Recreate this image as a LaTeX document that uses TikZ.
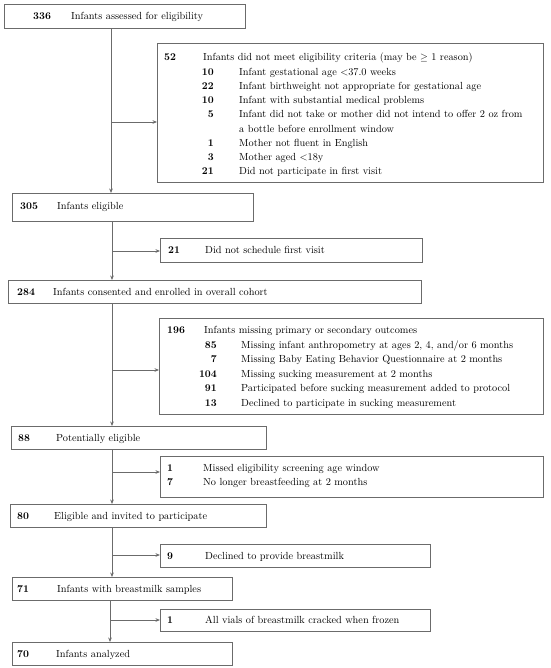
\documentclass[tikz,border=0pt]{standalone}
\usetikzlibrary{arrows.meta}
\newcommand{\flowfont}{\fontsize{10.3}{12}\selectfont}
\tikzset{
  box/.style={draw=black!58, line width=0.8pt, rectangle, inner sep=0pt, anchor=north west},
  num/.style={anchor=base west, inner sep=0pt, font=\flowfont\bfseries},
  subnum/.style={anchor=base east, inner sep=0pt, font=\flowfont\bfseries},
  txt/.style={anchor=base west, inner sep=0pt, font=\flowfont},
  conn/.style={draw=black!58, line width=0.8pt},
  arr/.style={conn, -{Stealth[length=4.5pt,width=3.6pt]}}
}
\newcommand{\mkbox}[5]{\node[box, minimum width=#4-#2, minimum height=#5-#3] (#1) at (#2,#3) {};}
\begin{document}
\begin{tikzpicture}[x=1pt, y=-1pt]
\useasboundingbox (0,0) rectangle (550,668);
% boxes
\mkbox{b336}{4}{4}{245}{28}
\mkbox{b52}{157}{43}{543}{182}
\mkbox{b305}{12}{193}{253}{221}
\mkbox{b21}{160}{238}{422}{262}
\mkbox{b284}{8}{280}{421}{303}
\mkbox{b196}{159}{318}{543}{414}
\mkbox{b88}{11}{426}{266}{449}
\mkbox{b17}{160}{456}{543}{497}
\mkbox{b80}{10}{504}{266}{527}
\mkbox{b9}{160}{544}{430}{567}
\mkbox{b71}{12}{577}{232}{600}
\mkbox{bcr}{160}{609}{430}{631}
\mkbox{b70}{12}{642}{232}{665}
% texts
\node[num] (n336) at (33,19.5) {336};
\node[txt] (t336) at (71,19.5) {Infants assessed for eligibility};
\node[num] (n52) at (164,61) {52};
\node[txt] (t52) at (203,61) {Infants did not meet eligibility criteria (may be $\geq$ 1 reason)};
\node[subnum] (n52a) at (214,75.25) {10};
\node[txt] (t52a) at (239,75.25) {Infant gestational age <37.0 weeks};
\node[subnum] (n52b) at (214,89.5) {22};
\node[txt] (t52b) at (239,89.5) {Infant birthweight not appropriate for gestational age};
\node[subnum] (n52c) at (214,103.75) {10};
\node[txt] (t52c) at (239,103.75) {Infant with substantial medical problems};
\node[subnum] (n52d) at (214,118) {5};
\node[txt] (t52d) at (239,118) {Infant did not take or mother did not intend to offer 2 oz from};
\node[txt] (t52e) at (239,132.25) {a bottle before enrollment window};
\node[subnum] (n52f) at (214,146.5) {1};
\node[txt] (t52f) at (239,146.5) {Mother not fluent in English};
\node[subnum] (n52g) at (214,160.75) {3};
\node[txt] (t52g) at (239,160.75) {Mother aged <18y};
\node[subnum] (n52h) at (214,175) {21};
\node[txt] (t52h) at (239,175) {Did not participate in first visit};
\node[num] (n305) at (20,210) {305};
\node[txt] (t305) at (57,210) {Infants eligible};
\node[num] (n21) at (168,253.5) {21};
\node[txt] (t21) at (205,253.5) {Did not schedule first visit};
\node[num] (n284) at (17,295) {284};
\node[txt] (t284) at (53,295) {Infants consented and enrolled in overall cohort};
\node[num] (n196) at (167,333.5) {196};
\node[txt] (t196) at (204,333.5) {Infants missing primary or secondary outcomes};
\node[subnum] (n196a) at (217,348) {85};
\node[txt] (t196a) at (241,348) {Missing infant anthropometry at ages 2, 4, and/or 6 months};
\node[subnum] (n196b) at (217,362.5) {7};
\node[txt] (t196b) at (241,362.5) {Missing Baby Eating Behavior Questionnaire at 2 months};
\node[subnum] (n196c) at (217,377) {104};
\node[txt] (t196c) at (241,377) {Missing sucking measurement at 2 months};
\node[subnum] (n196d) at (217,391.5) {91};
\node[txt] (t196d) at (241,391.5) {Participated before sucking measurement added to protocol};
\node[subnum] (n196e) at (217,406) {13};
\node[txt] (t196e) at (241,406) {Declined to participate in sucking measurement};
\node[num] (n88) at (18,441) {88};
\node[txt] (t88) at (56,441) {Potentially eligible};
\node[num] (n17a) at (167,471.5) {1};
\node[txt] (t17a) at (203,471.5) {Missed eligibility screening age window};
\node[num] (n17b) at (167,485.5) {7};
\node[txt] (t17b) at (203,485.5) {No longer breastfeeding at 2 months};
\node[num] (n80) at (17,519) {80};
\node[txt] (t80) at (54,519) {Eligible and invited to participate};
\node[num] (n9) at (167,559) {9};
\node[txt] (t9) at (205,559) {Declined to provide breastmilk};
\node[num] (n71) at (17,592) {71};
\node[txt] (t71) at (57,592) {Infants with breastmilk samples};
\node[num] (ncr) at (167,623.5) {1};
\node[txt] (tcr) at (205,623.5) {All vials of breastmilk cracked when frozen};
\node[num] (n70) at (17,657) {70};
\node[txt] (t70) at (56,657) {Infants analyzed};
% trunk coordinates
\coordinate (ta) at (111,0);
\coordinate (tb) at (112,0);
\coordinate (tc) at (112,0);
\coordinate (td) at (110,0);
% branch points
\coordinate (j52) at (111,122);
\coordinate (j21) at (112,251);
\coordinate (j196) at (112,370);
\coordinate (j17) at (112,472);
\coordinate (j9) at (112,555);
\coordinate (jcr) at (110,620);
% connectors
\draw[arr] (b336.south -| ta) -- (b305.north -| ta);
\draw[arr] (j52) -- (b52.west |- j52);
\draw[arr] (b305.south -| tb) -- (b284.north -| tb);
\draw[arr] (j21) -- (b21.west |- j21);
\draw[arr] (b284.south -| tb) -- (b88.north -| tb);
\draw[arr] (j196) -- (b196.west |- j196);
\draw[arr] (b88.south -| tc) -- (b80.north -| tc);
\draw[arr] (j17) -- (b17.west |- j17);
\draw[arr] (b80.south -| tc) -- (b71.north -| tc);
\draw[arr] (j9) -- (b9.west |- j9);
\draw[arr] (b71.south -| td) -- (b70.north -| td);
\draw[arr] (jcr) -- (bcr.west |- jcr);
\end{tikzpicture}
\end{document}
